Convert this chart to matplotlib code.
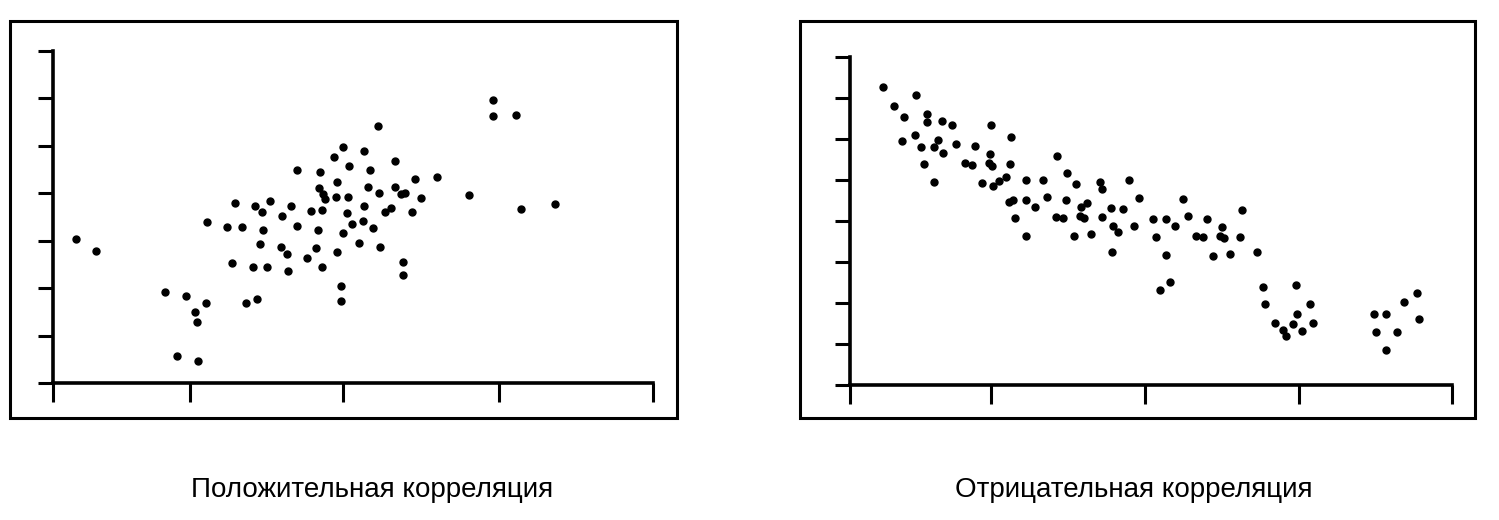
import matplotlib.pyplot as plt
from matplotlib.patches import Rectangle

###################################################################################################
# положительная корреляция (условные единицы)
pos_x = [23, 43, 112, 133, 124, 145, 142, 144, 153, 154, 174, 182, 179, 189, 193, 204,
         200, 214, 202, 209, 217, 210, 207, 229, 228, 234, 235, 238, 244, 244, 254, 258,
         263, 265, 266, 267, 269, 269, 270, 272, 281, 283, 284, 284, 288, 288, 290, 290,
         294, 295, 296, 299, 306, 310, 311, 311, 315, 317, 320, 325, 326, 327, 332, 338,
         342, 342, 348, 352, 350, 350, 359, 362, 368, 384, 416, 440, 440, 463, 468, 502]
pos_y = [144, 132, 91, 87, 27, 22, 71, 61, 80, 161, 156, 180, 120, 156, 80, 84,
         116, 116, 177, 171, 182, 153, 139, 167, 136, 129, 112, 177, 157, 213, 125, 172,
         135, 153, 195, 211, 173, 116, 189, 184, 226, 186, 201, 131, 97, 82, 236, 150,
         170, 186, 217, 159, 140, 162, 232, 177, 196, 213, 155, 257, 190, 136, 171, 175,
         222, 196, 189, 190, 121, 108, 171, 204, 185, 206, 188, 283, 267, 268, 174, 179]

# отрицательная корреляция
neg_x = [33, 44, 66, 54, 77, 77, 92, 102, 52, 65, 71, 84, 88, 93, 106, 74,
         84, 115, 122, 125, 141, 140, 139, 142, 132, 143, 149, 156, 160, 161, 159, 163,
         165, 176, 176, 176, 185, 193, 197, 207, 206, 213, 216, 217, 226, 224, 231, 237,
         230, 234, 241, 250, 252, 252, 261, 263, 268, 262, 273, 279, 284, 289, 303, 306,
         333, 316, 325, 338, 357, 392, 346, 353, 372, 370, 374, 390, 316, 363, 380, 407,
         320, 310, 413, 415, 425, 446, 460, 447, 433, 436, 443, 452, 463, 524, 536, 554,
         567, 569, 526, 547, 536]
neg_y = [298, 279, 290, 268, 271, 263, 264, 260, 244, 250, 238, 238, 245, 232, 241, 221,
         203, 222, 220, 239, 260, 231, 222, 219, 202, 199, 204, 208, 221, 248, 183, 185,
         167, 205, 185, 149, 178, 205, 188, 229, 168, 167, 185, 212, 201, 149, 178, 182,
         169, 167, 151, 203, 196, 168, 177, 159, 153, 133, 176, 205, 159, 187, 166, 148,
         186, 166, 159, 169, 166, 175, 149, 148, 158, 149, 147, 148, 130, 129, 131, 133,
         103, 95, 98, 81, 62, 100, 81, 71, 55, 49, 61, 54, 62, 71, 71, 83,
         92, 66, 53, 53, 35]

pos_xticks = [0, 137, 290, 446, 600]
neg_xticks = [0, 141, 295, 449, 602]

titles = ["Положительная корреляция", "Отрицательная корреляция"]

###################################################################################################

def draw_panel(fig, box, rect, xs, ys, xticks, ymax, ny, title, tx):
    # рамка вокруг панели
    fig.patches.append(Rectangle((box[0], box[1]), box[2], box[3], transform=fig.transFigure,
                                 fill=False, edgecolor="black", linewidth=2.2))

    ax = fig.add_axes(rect)
    ax.plot(xs, ys, "o", color="black", markersize=5, clip_on=False)

    ax.set_xlim(xticks[0], xticks[-1])
    ax.set_ylim(0, ymax)
    ax.set_xticks(xticks)
    ax.set_yticks([ymax * i / ny for i in range(ny + 1)])
    ax.set_xticklabels([])
    ax.set_yticklabels([])

    for s in ["top", "right"]:
        ax.spines[s].set_visible(False)
    for s in ["left", "bottom"]:
        ax.spines[s].set_linewidth(2.6)
    ax.tick_params(axis="x", direction="out", length=14, width=2.2)
    ax.tick_params(axis="y", direction="out", length=11, width=2.2)

    fig.text(tx, 0.058, title, ha="center", va="center", fontsize=20,
             family=["Liberation Sans", "DejaVu Sans"])


def main():
    fig = plt.figure(figsize=(14.99, 5.2), dpi=100)

###################################################################################################

    draw_panel(fig, (0.0067, 0.1962, 0.4449, 0.7634), (0.0354, 0.2635, 0.4003, 0.6385),
               pos_x, pos_y, pos_xticks, 332, 7, titles[0], 0.248)
    draw_panel(fig, (0.5337, 0.1962, 0.4503, 0.7634), (0.5671, 0.2596, 0.4016, 0.6308),
               neg_x, neg_y, neg_xticks, 328, 8, titles[1], 0.7565)

###################################################################################################

    fig.savefig("out.png", dpi=100)

main()
